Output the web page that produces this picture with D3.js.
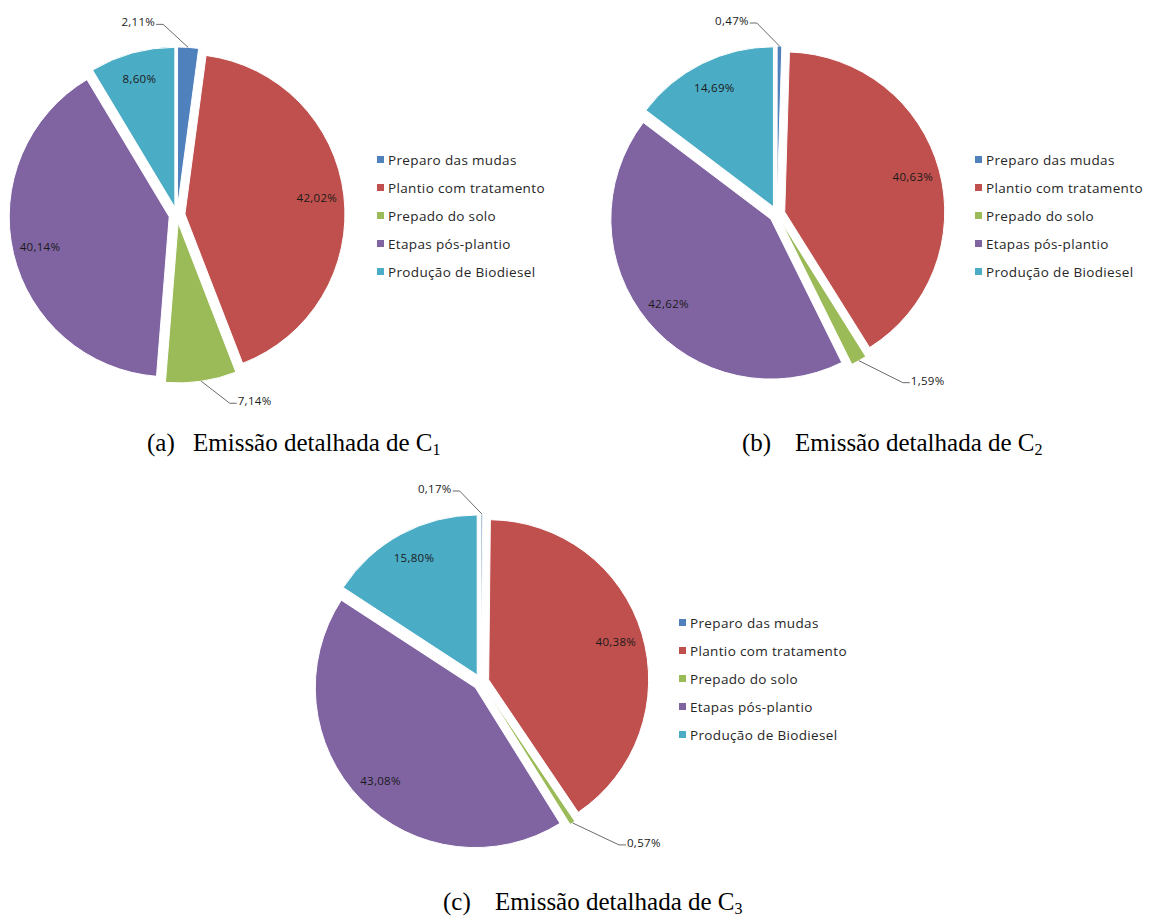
<!DOCTYPE html>
<html>
<head>
<meta charset="utf-8">
<script src="https://cdn.jsdelivr.net/npm/d3@7/dist/d3.min.js"></script>
<style>
  html, body { margin: 0; padding: 0; background: #fff; }
  svg { display: block; }
</style>
</head>
<body>
<svg id="chart" width="1153" height="917"></svg>
<script>
// Emission breakdown per stage, in percent, for the three scenarios
const categories = [
  "Preparo das mudas",
  "Plantio com tratamento",
  "Prepado do solo",
  "Etapas pós-plantio",
  "Produção de Biodiesel"
];
const valuesC1 = [2.11, 42.02, 7.14, 40.14, 8.60];
const valuesC2 = [0.47, 40.63, 1.59, 42.62, 14.69];
const valuesC3 = [0.17, 40.38, 0.57, 43.08, 15.80];
const captionLetters = ["(a)", "(b)", "(c)"];
const captionText = "Emissão detalhada de C";
const captionSubs = ["1", "2", "3"];

const colors = ["#4F81BD", "#C0504D", "#9BBB59", "#8064A2", "#4BACC6"];

// Panel layout: pie centre, legend origin, caption origin and spacing
const panels = [
  { values: valuesC1, cx: 177, cy: 215, lx: 377, ly: 160, capX: 147, capY: 451, capGap: 46 },
  { values: valuesC2, cx: 777, cy: 214, lx: 975, ly: 160, capX: 742, capY: 451, capGap: 53 },
  { values: valuesC3, cx: 481, cy: 682, lx: 679, ly: 623, capX: 443, capY: 910, capGap: 52 }
];

const R = 160;          // pie radius
const EXPLODE = 8;      // distance each slice is pulled out
const INSIDE_MIN = 8;   // slices below this get an outside label with leader

const svg = d3.select("#chart");
const fmt = v => d3.format(".2f")(v).replace(".", ",") + "%";

const pie = d3.pie().sort(null).value(d => d);
const arc = d3.arc().innerRadius(0).outerRadius(R);

// polar helper: angle measured clockwise from 12 o'clock
const polar = (a, r) => [r * Math.sin(a), -r * Math.cos(a)];

const labelFont = "'Open Sans', sans-serif";

panels.forEach((p, pi) => {
  const g = svg.append("g").attr("transform", `translate(${p.cx},${p.cy})`);
  const arcs = pie(p.values);

  const slice = g.selectAll("g.slice")
    .data(arcs)
    .join("g")
    .attr("class", "slice")
    .attr("transform", d => {
      const m = (d.startAngle + d.endAngle) / 2;
      const [x, y] = polar(m, EXPLODE);
      return `translate(${x},${y})`;
    });

  slice.append("path")
    .attr("d", arc)
    .attr("fill", (d, i) => colors[i])
    .attr("stroke", "#fff")
    .attr("stroke-width", 1);

  // inside labels
  slice.filter(d => d.data >= INSIDE_MIN)
    .append("text")
    .attr("x", d => polar((d.startAngle + d.endAngle) / 2, R * 0.83)[0])
    .attr("y", d => polar((d.startAngle + d.endAngle) / 2, R * 0.83)[1])
    .attr("text-anchor", "middle")
    .attr("dy", "0.35em")
    .attr("font-family", labelFont)
    .attr("font-size", 11.5)
    .attr("letter-spacing", 0.3)
    .attr("fill", "#1a1a1a")
    .text(d => fmt(d.data));

  // outside labels with leader lines
  const outside = slice.filter(d => d.data < INSIDE_MIN);
  outside.each(function(d) {
    const m = (d.startAngle + d.endAngle) / 2;
    const [ex, ey] = polar(m, R);
    const upper = Math.cos(m) > 0;
    const side = upper ? -1 : 1;
    const vy = upper ? -23 : 22;
    const hx = side * (22 + 45 * Math.abs(Math.sin(m)));
    const elbow = [ex + hx, ey + vy];
    const tail = [elbow[0] + side * 7, elbow[1]];
    const s = d3.select(this);
    s.append("path")
      .attr("d", d3.line()([[ex, ey], elbow, tail]))
      .attr("fill", "none")
      .attr("stroke", "#6b6b6b")
      .attr("stroke-width", 1);
    s.append("text")
      .attr("x", tail[0] + side * 1)
      .attr("y", tail[1] - 2)
      .attr("text-anchor", upper ? "end" : "start")
      .attr("dy", "0.35em")
      .attr("font-family", labelFont)
      .attr("font-size", 11.5)
      .attr("letter-spacing", 0.3)
      .attr("fill", "#1a1a1a")
      .text(fmt(d.data));
  });

  // legend
  const leg = svg.append("g").attr("transform", `translate(${p.lx},${p.ly})`);
  const item = leg.selectAll("g")
    .data(categories)
    .join("g")
    .attr("transform", (d, i) => `translate(0,${i * 28})`);
  item.append("rect")
    .attr("x", 0).attr("y", -4)
    .attr("width", 7).attr("height", 7)
    .attr("fill", (d, i) => colors[i]);
  item.append("text")
    .attr("x", 11).attr("y", 0)
    .attr("dy", "0.35em")
    .attr("font-family", labelFont)
    .attr("font-size", 13.5)
    .attr("letter-spacing", 0.35)
    .attr("fill", "#262626")
    .text(d => d);

  // caption
  const cap = svg.append("g").attr("transform", `translate(${p.capX},${p.capY})`)
    .attr("font-family", "'Liberation Serif', 'Times New Roman', serif")
    .attr("font-size", 25)
    .attr("fill", "#000");
  cap.append("text").attr("x", 0).attr("y", 0).text(captionLetters[pi]);
  const t = cap.append("text").attr("x", p.capGap).attr("y", 0);
  t.append("tspan").text(captionText);
  t.append("tspan").attr("dy", 3.5).attr("font-size", 16).text(captionSubs[pi]);
});
</script>
</body>
</html>
